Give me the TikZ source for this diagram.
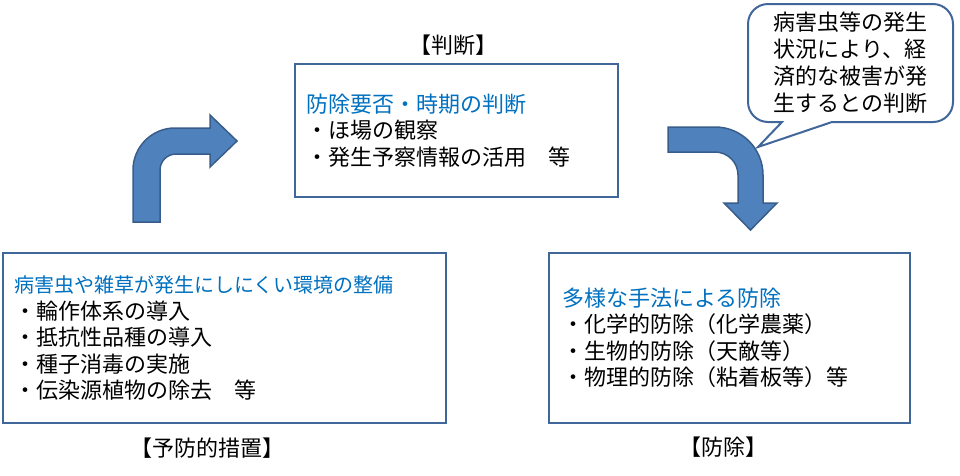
\documentclass[tikz,border=0pt]{standalone}
\usepackage{fontspec}
\setmainfont{Noto Sans CJK JP}
\usepackage{xcolor}
\usepackage{tikz}
\usetikzlibrary{positioning}

\definecolor{arrowfill}{HTML}{4F81BD}
\definecolor{arrowline}{HTML}{385D8A}
\definecolor{boxline}{HTML}{41679A}
\definecolor{titleblue}{HTML}{0070C0}
\newcommand{\jpsize}{\fontsize{22}{26.5}\selectfont}

\begin{document}
\begin{tikzpicture}[x=1pt,y=-1pt]
						\tikzstyle{box}=[draw=boxline,line width=2.5pt,fill=white,align=left,inner ysep=0pt,font=\jpsize]
						\tikzstyle{heading}=[font=\jpsize,inner sep=0pt]
						\tikzstyle{turn}=[fill=arrowfill,draw=arrowline,line width=1.5pt,line join=miter]
						\useasboundingbox (0,0) rectangle (960,475);
						% boxes
						\node[box,text width=421pt,inner xsep=11pt,minimum height=170pt](prevent) at (224.5,338) {{\fontsize{20}{26.5}\selectfont\color{titleblue}病害虫や雑草が発生にしにくい環境の整備}\\・輪作体系の導入\\・抵抗性品種の導入\\・種子消毒の実施\\・伝染源植物の除去　等};
						\node[box,text width=301pt,inner xsep=11pt,minimum height=133pt](judge) at (456.5,130.5) {{\color{titleblue}防除要否・時期の判断}\\・ほ場の観察\\・発生予察情報の活用　等};
						\node[box,text width=335pt,inner xsep=13pt,minimum height=170pt](control) at (729.5,338) {{\color{titleblue}多様な手法による防除}\\・化学的防除（化学農薬）\\・生物的防除（天敵等）\\・物理的防除（粘着板等）等};
						\node[heading](prevent label) at (207,448) {【予防的措置】};
						\node[heading](judge label) at (453,45) {【判断】};
						\node[heading](control label) at (723,447) {【防除】};
						% bent arrows
						\draw[turn] (133,222) -- (133,170) arc[start angle=180,end angle=270,radius=42] -- (210,128) -- (210,115) -- (237,141) -- (210,167) -- (210,154) -- (176,154) arc[start angle=270,end angle=180,radius=16] -- (160,222) -- cycle;
						\draw[turn] (668,127) -- (715,127) arc[start angle=270,end angle=360,radius=48] -- (763,203) -- (777,203) -- (750.5,230) -- (724,203) -- (738,203) -- (738,175) arc[start angle=0,end angle=-90,radius=23] -- (668,152) -- cycle;
						% speech bubble
						\draw[boxline,line width=2pt,fill=white,line join=miter] (758,147) -- (782,122) -- (768,122) arc[start angle=90,end angle=180,radius=20] -- (748,24) arc[start angle=180,end angle=270,radius=20] -- (933,4) arc[start angle=270,end angle=360,radius=20] -- (953,102) arc[start angle=0,end angle=90,radius=20] -- (832,122) -- cycle;
						\node[font=\fontsize{22}{27}\selectfont,align=left,inner sep=0pt](note) at (850.5,63) {病害虫等の発生\\状況により、経\\済的な被害が発\\生するとの判断};
					\end{tikzpicture}
\end{document}
